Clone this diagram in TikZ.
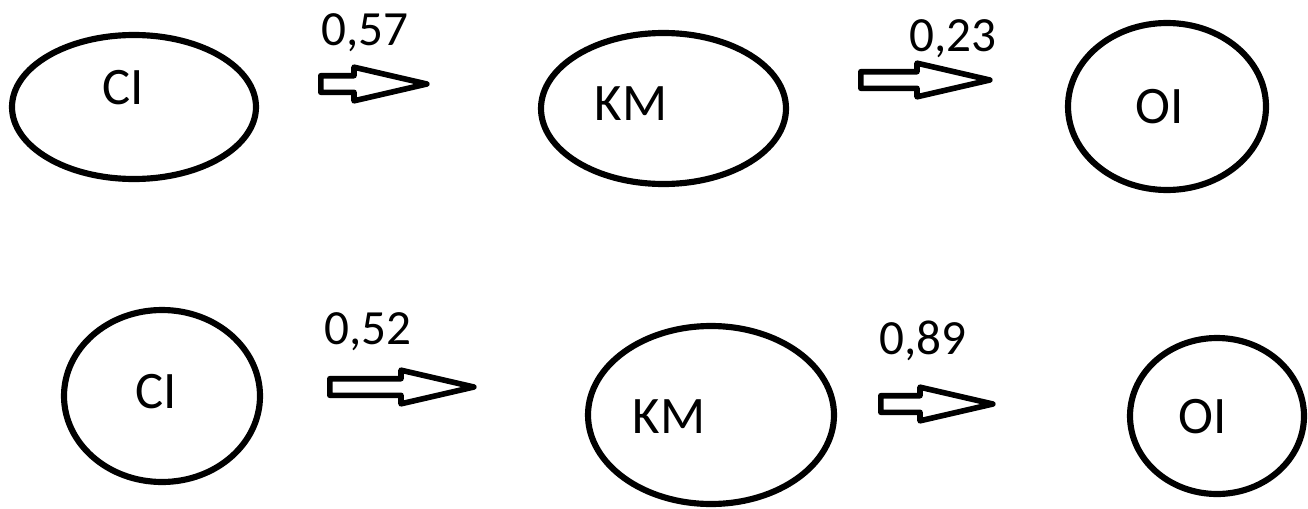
\documentclass[tikz,border=0pt]{standalone}
\usepackage{fontspec}
\setmainfont{Carlito}
\usetikzlibrary{shapes,positioning}

\begin{document}
\begin{tikzpicture}[
  state/.style={draw, ellipse, line width=3.5pt, inner sep=0pt},
  lbl/.style={anchor=base, font=\fontsize{30}{36}\selectfont},
  num/.style={anchor=base, font=\fontsize{28}{34}\selectfont},
  flow/.style={draw, single arrow, line width=3.2pt, line join=round,
    inner xsep=0pt, inner ysep=0.11cm, minimum width=0.56cm,
    single arrow head extend=0.17cm, single arrow tip angle=26, anchor=tail}
]
\useasboundingbox (0,0) rectangle (26.16,-10.16);

% First row
\node[state, minimum width=4.88cm, minimum height=2.88cm] (ci1) at (2.68,-2.14) {};
\node[state, minimum width=4.90cm, minimum height=3.02cm] (km1) at (13.27,-2.17) {};
\node[state, minimum width=3.96cm, minimum height=3.34cm] (oi1) at (23.34,-2.13) {};
\node[lbl] (ci1text) at (2.46,-2.08) {CI};
\node[lbl] (km1text) at (12.62,-2.41) {KM};
\node[lbl] (oi1text) at (23.20,-2.46) {OI};

% Second row
\node[state, minimum width=3.92cm, minimum height=3.44cm] (ci2) at (3.24,-7.92) {};
\node[state, minimum width=4.92cm, minimum height=3.56cm] (km2) at (14.22,-8.30) {};
\node[state, minimum width=3.48cm, minimum height=3.12cm] (oi2) at (24.34,-8.32) {};
\node[lbl] (ci2text) at (3.12,-8.16) {CI};
\node[lbl] (km2text) at (13.38,-8.66) {KM};
\node[lbl] (oi2text) at (24.06,-8.66) {OI};

% Arrows
\node[flow, minimum height=2.12cm] (a1) at (6.36,-1.68) {};
\node[flow, minimum height=2.58cm] (a2) at (17.16,-1.60) {};
\node[flow, minimum height=2.88cm] (a3) at (6.54,-7.74) {};
\node[flow, minimum height=2.24cm] (a4) at (17.56,-8.08) {};

% Values
\node[num] (v1) at (7.30,-0.90) {0,57};
\node[num] (v2) at (19.06,-1.04) {0,23};
\node[num] (v3) at (7.36,-6.88) {0,52};
\node[num] (v4) at (18.46,-7.08) {0,89};

\end{tikzpicture}
\end{document}
